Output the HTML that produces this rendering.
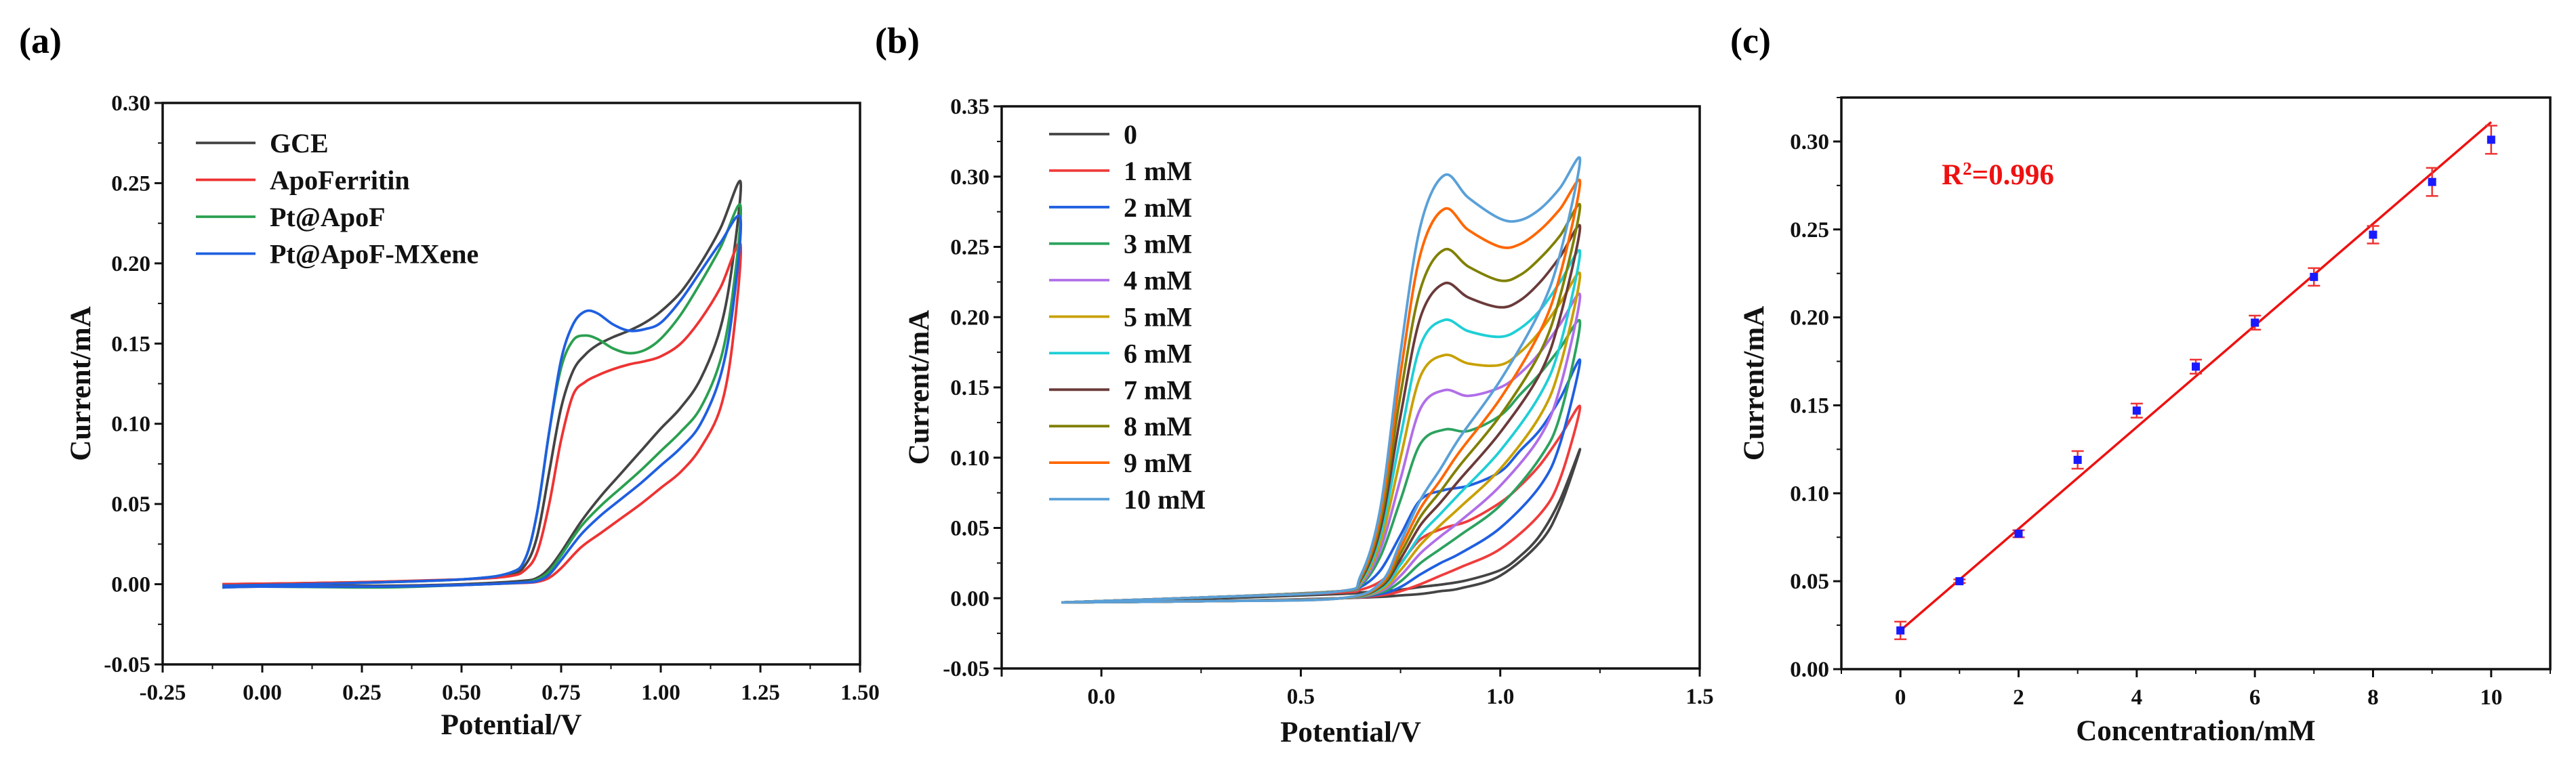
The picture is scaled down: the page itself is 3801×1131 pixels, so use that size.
<!DOCTYPE html>
<html><head><meta charset="utf-8">
<style>
html,body{margin:0;padding:0;background:#fff;}
svg{display:block;font-family:"Liberation Serif",serif;font-weight:bold;}
</style></head>
<body>
<svg id="fig" width="3801" height="1131" viewBox="0 0 3801 1131" xmlns="http://www.w3.org/2000/svg">
<rect width="3801" height="1131" fill="#fff"/>
</svg>
<script>
// ---------- Panel (a) data ----------
const aFwdV = [-0.1,0.2,0.5,0.62,0.66,0.69,0.72,0.75,0.78,0.81,0.84,0.88,0.92,0.96,1.0,1.05,1.1,1.15,1.2];
const aRevV = [1.2,1.18,1.15,1.1,1.05,1.0,0.95,0.9,0.85,0.8,0.75,0.72,0.69,0.65,0.5,0.3,0.0,-0.1];
const aNames = ["GCE","ApoFerritin","Pt@ApoF","Pt@ApoF-MXene"];
const aGCEf = [0,0.001,0.003,0.006,0.012,0.03,0.07,0.11,0.133,0.143,0.149,0.154,0.158,0.163,0.170,0.182,0.200,0.222,0.251];
const aGCEr = [0.251,0.2,0.16,0.128,0.11,0.097,0.083,0.069,0.055,0.039,0.02,0.01,0.004,0.002,0.0,-0.001,-0.001,-0.001];
const aApoF = [0,0.001,0.003,0.005,0.009,0.02,0.05,0.09,0.118,0.126,0.130,0.134,0.137,0.139,0.142,0.150,0.165,0.185,0.212];
const aApoR = [0.212,0.15,0.11,0.085,0.07,0.06,0.05,0.041,0.032,0.023,0.01,0.004,0.0015,0.0008,-0.0005,-0.0015,-0.0015,-0.002];
const aPtF = [-0.001,0.0005,0.003,0.007,0.016,0.045,0.095,0.135,0.152,0.155,0.153,0.147,0.144,0.146,0.153,0.168,0.188,0.210,0.236];
const aPtR = [0.236,0.18,0.14,0.11,0.095,0.083,0.071,0.06,0.049,0.036,0.018,0.008,0.003,0.001,-0.0005,-0.002,-0.0015,-0.002];
const aMxF = [-0.001,0.0005,0.003,0.007,0.016,0.045,0.095,0.14,0.162,0.170,0.169,0.162,0.158,0.159,0.163,0.177,0.195,0.213,0.228];
const aMxR = [0.228,0.17,0.13,0.1,0.085,0.074,0.063,0.053,0.043,0.031,0.015,0.006,0.002,0.001,-0.0005,-0.0015,-0.0015,-0.002];
const aXTicks = ["-0.25","0.00","0.25","0.50","0.75","1.00","1.25","1.50"];
const aYTicks = ["-0.05","0.00","0.05","0.10","0.15","0.20","0.25","0.30"];

// ---------- Panel (b) data ----------
const bFwdV = [-0.1,0.3,0.6,0.65,0.7,0.75,0.8,0.86,0.92,1.0,1.05,1.1,1.15,1.2];
const bRevV = [1.2,1.15,1.1,1.0,0.9,0.85,0.8,0.75,0.7,0.6,0.3,-0.1];
const bNames = ["0","1 mM","2 mM","3 mM","4 mM","5 mM","6 mM","7 mM","8 mM","9 mM","10 mM"];
const bF0 = [-0.003,0.0,0.003,0.004,0.005,0.006,0.008,0.01,0.013,0.02,0.03,0.045,0.07,0.106];
const bR0 = [0.106,0.065,0.04,0.016,0.007,0.005,0.003,0.002,0.001,0,-0.002,-0.003];
const bF1 = [-0.003,0.001,0.004,0.006,0.012,0.025,0.042,0.05,0.055,0.068,0.08,0.095,0.115,0.136];
const bR1 = [0.136,0.085,0.06,0.035,0.022,0.016,0.01,0.005,0.002,0,-0.002,-0.003];
const bF2 = [-0.003,0.001,0.005,0.008,0.02,0.045,0.07,0.077,0.08,0.09,0.105,0.12,0.142,0.169];
const bR2 = [0.169,0.11,0.08,0.05,0.032,0.025,0.017,0.008,0.003,0,-0.002,-0.003];
const bF3 = [-0.003,0.001,0.005,0.009,0.03,0.07,0.11,0.12,0.119,0.13,0.145,0.16,0.178,0.196];
const bR3 = [0.196,0.13,0.1,0.066,0.045,0.035,0.025,0.012,0.004,0,-0.002,-0.003];
const bF4 = [-0.003,0.001,0.005,0.01,0.035,0.085,0.135,0.148,0.144,0.15,0.16,0.175,0.195,0.215];
const bR4 = [0.215,0.15,0.115,0.08,0.055,0.044,0.032,0.016,0.005,0,-0.002,-0.003];
const bF5 = [-0.003,0.001,0.005,0.011,0.04,0.1,0.158,0.173,0.167,0.166,0.175,0.19,0.21,0.23];
const bR5 = [0.23,0.165,0.13,0.092,0.065,0.052,0.038,0.02,0.006,0,-0.002,-0.003];
const bF6 = [-0.003,0.001,0.005,0.012,0.045,0.115,0.18,0.198,0.19,0.186,0.192,0.205,0.225,0.246];
const bR6 = [0.246,0.18,0.145,0.105,0.075,0.06,0.045,0.024,0.007,0,-0.002,-0.003];
const bF7 = [-0.003,0.001,0.005,0.013,0.05,0.13,0.2,0.224,0.214,0.207,0.212,0.225,0.243,0.264];
const bR7 = [0.264,0.2,0.16,0.118,0.085,0.068,0.052,0.028,0.008,0,-0.002,-0.003];
const bF8 = [-0.003,0.001,0.005,0.014,0.055,0.145,0.22,0.248,0.236,0.226,0.23,0.242,0.258,0.279];
const bR8 = [0.279,0.215,0.175,0.13,0.095,0.076,0.058,0.032,0.009,0,-0.002,-0.003];
const bF9 = [-0.003,0.001,0.005,0.015,0.06,0.16,0.245,0.277,0.262,0.25,0.252,0.262,0.277,0.296];
const bR9 = [0.296,0.23,0.19,0.142,0.105,0.084,0.064,0.036,0.01,0,-0.002,-0.003];
const bF10 = [-0.003,0.001,0.005,0.016,0.065,0.175,0.265,0.301,0.285,0.27,0.269,0.277,0.292,0.312];
const bR10 = [0.312,0.245,0.205,0.155,0.115,0.092,0.07,0.04,0.011,0,-0.002,-0.003];
const bXTicks = ["","0.0","0.5","1.0","1.5"];
const bYTicks = ["-0.05","0.00","0.05","0.10","0.15","0.20","0.25","0.30","0.35"];

// ---------- Panel (c) data ----------
const cConc = [0,1,2,3,4,5,6,7,8,9,10];
const cCurrent = [0.022,0.050,0.077,0.119,0.147,0.172,0.197,0.223,0.247,0.277,0.301];
const cError = [0.005,0.001,0.002,0.005,0.004,0.004,0.004,0.005,0.005,0.008,0.008];
const cFitIntercept = 0.022;
const cFitSlope = 0.0289;
const cXTicks = ["0","2","4","6","8","10"];
const cYTicks = ["0.00","0.05","0.10","0.15","0.20","0.25","0.30"];

const NS = "http://www.w3.org/2000/svg";
const svg = document.getElementById("fig");
const LW = 3.8;
function mk(tag, attrs, parent){
  const e = document.createElementNS(NS, tag);
  for (const k in attrs) e.setAttribute(k, attrs[k]);
  (parent||svg).appendChild(e);
  return e;
}
function txt(str, attrs, parent){ const t = mk("text", attrs, parent); t.textContent = str; return t; }

function smoothPath(pts){
  let d = "M"+pts[0][0].toFixed(1)+","+pts[0][1].toFixed(1);
  for (let i=0;i<pts.length-1;i++){
    const p0 = pts[Math.max(0,i-1)], p1 = pts[i], p2 = pts[i+1], p3 = pts[Math.min(pts.length-1,i+2)];
    const c1x = p1[0]+(p2[0]-p0[0])/6, c1y = p1[1]+(p2[1]-p0[1])/6;
    const c2x = p2[0]-(p3[0]-p1[0])/6, c2y = p2[1]-(p3[1]-p1[1])/6;
    d += " C"+c1x.toFixed(1)+","+c1y.toFixed(1)+" "+c2x.toFixed(1)+","+c2y.toFixed(1)+" "+p2[0].toFixed(1)+","+p2[1].toFixed(1);
  }
  return d;
}

function axesBox(g, L, R, T, B){
  const r = mk("rect", {x:L, y:T, width:R-L, height:B-T, fill:"none", stroke:"#111", "stroke-width":3.5}, g);
  
  
}

// ===== Panel (a) =====
(function(){
  const L=240,R=1269,T=152,B=981, x0=-0.25,x1=1.5,y0=-0.05,y1=0.30;
  const X=v=>L+(v-x0)/(x1-x0)*(R-L), Y=v=>B-(v-y0)/(y1-y0)*(B-T);
  const g = mk("g", {});
  
  
  const lab = txt("(a)", {x:28, y:78, "font-size":54}, g);
  
  
  const series = [[aGCEf,aGCEr,"#444444"],[aApoF,aApoR,"#ee3333"],[aPtF,aPtR,"#2aa050"],[aMxF,aMxR,"#1f5fe0"]];
  series.forEach((s,i)=>{
    const pts = aFwdV.map((v,k)=>[X(v),Y(s[0][k])]).concat(aRevV.slice(1).map((v,k)=>[X(v),Y(s[1][k+1])]));
    const p = mk("path", {d:smoothPath(pts), fill:"none", stroke:s[2], "stroke-width":LW}, g);
    
    
    const ly = 211 + i*54.5;
    const ll = mk("line", {x1:289, x2:377, y1:ly, y2:ly, stroke:s[2], "stroke-width":LW}, g);
    
    
    const lt = txt(aNames[i], {x:398, y:ly+14, "font-size":40, fill:"#111"}, g);
    
    
  });
  axesBox(g,L,R,T,B);
  aXTicks.forEach((t,i)=>{
    const v = x0 + i*0.25, x = X(v);
    mk("line",{x1:x,x2:x,y1:B,y2:B+12,stroke:"#111","stroke-width":3},g);
    if (i<aXTicks.length-1){ const xm = X(v+0.125); mk("line",{x1:xm,x2:xm,y1:B,y2:B+7,stroke:"#111","stroke-width":2},g); }
    const tl = txt(t,{x:x,y:B+52,"font-size":33,"text-anchor":"middle",fill:"#111"},g);
    
    
  });
  aYTicks.forEach((t,i)=>{
    const v = y0 + i*0.05, y = Y(v);
    mk("line",{x1:L,x2:L-12,y1:y,y2:y,stroke:"#111","stroke-width":3},g);
    if (i<aYTicks.length-1){ const ym = Y(v+0.025); mk("line",{x1:L,x2:L-7,y1:ym,y2:ym,stroke:"#111","stroke-width":2},g); }
    const tl = txt(t,{x:L-18,y:y+11,"font-size":33,"text-anchor":"end",fill:"#111"},g);
    
    
  });
  const xt = txt("Potential/V",{x:(L+R)/2,y:1084,"font-size":43,"text-anchor":"middle",fill:"#111"},g);
  
  
  const yt = txt("Current/mA",{x:0,y:0,"font-size":43,"text-anchor":"middle",fill:"#111",transform:"translate(133,"+((T+B)/2)+") rotate(-90)"},g);
  
  
})();

// ===== Panel (b) =====
(function(){
  const L=1478,R=2508,T=157,B=987, x0=-0.25,x1=1.5,y0=-0.05,y1=0.35;
  const X=v=>L+(v-x0)/(x1-x0)*(R-L), Y=v=>B-(v-y0)/(y1-y0)*(B-T);
  const g = mk("g", {});
  
  
  const lab = txt("(b)", {x:1291, y:78, "font-size":54}, g);
  
  
  const fw = [bF0,bF1,bF2,bF3,bF4,bF5,bF6,bF7,bF8,bF9,bF10];
  const rv = [bR0,bR1,bR2,bR3,bR4,bR5,bR6,bR7,bR8,bR9,bR10];
  const cols = ["#444444","#f03c3c","#1f5fe0","#2ca25f","#b06ee8","#c8a000","#1ecfd6","#6b3a3a","#808000","#ff6600","#5aa0d8"];
  fw.forEach((f,i)=>{
    const pts = bFwdV.map((v,k)=>[X(v),Y(f[k])]).concat(bRevV.slice(1).map((v,k)=>[X(v),Y(rv[i][k+1])]));
    const p = mk("path", {d:smoothPath(pts), fill:"none", stroke:cols[i], "stroke-width":LW}, g);
    
    
    const ly = 198 + i*53.9;
    const ll = mk("line", {x1:1548, x2:1637, y1:ly, y2:ly, stroke:cols[i], "stroke-width":LW}, g);
    
    
    const lt = txt(bNames[i], {x:1658, y:ly+14, "font-size":40, fill:"#111"}, g);
    
    
  });
  axesBox(g,L,R,T,B);
  bXTicks.forEach((t,i)=>{
    const v = i===0 ? -0.25 : (i-1)*0.5, x = X(v);
    mk("line",{x1:x,x2:x,y1:B,y2:B+12,stroke:"#111","stroke-width":3},g);
    if (i>0 && i<bXTicks.length-1){ const xm = X(v+0.25); mk("line",{x1:xm,x2:xm,y1:B,y2:B+7,stroke:"#111","stroke-width":2},g); }
    if (t){
      const tl = txt(t,{x:x,y:B+52,"font-size":33,"text-anchor":"middle",fill:"#111"},g);
      
      
    }
  });
  bYTicks.forEach((t,i)=>{
    const v = y0 + i*0.05, y = Y(v);
    mk("line",{x1:L,x2:L-12,y1:y,y2:y,stroke:"#111","stroke-width":3},g);
    if (i<bYTicks.length-1){ const ym = Y(v+0.025); mk("line",{x1:L,x2:L-7,y1:ym,y2:ym,stroke:"#111","stroke-width":2},g); }
    const tl = txt(t,{x:L-18,y:y+11,"font-size":33,"text-anchor":"end",fill:"#111"},g);
    
    
  });
  const xt = txt("Potential/V",{x:(L+R)/2,y:1095,"font-size":43,"text-anchor":"middle",fill:"#111"},g);
  
  
  const yt = txt("Current/mA",{x:0,y:0,"font-size":43,"text-anchor":"middle",fill:"#111",transform:"translate(1370,"+((T+B)/2)+") rotate(-90)"},g);
  
  
})();

// ===== Panel (c) =====
(function(){
  const L=2717,R=3763,T=144,B=988, x0=-1,x1=11,y0=0,y1=0.325;
  const X=v=>L+(v-x0)/(x1-x0)*(R-L), Y=v=>B-(v-y0)/(y1-y0)*(B-T);
  const g = mk("g", {});
  
  
  const lab = txt("(c)", {x:2553, y:78, "font-size":54}, g);
  
  
  const fit = mk("line",{x1:X(0),y1:Y(cFitIntercept),x2:X(10),y2:Y(cFitIntercept+cFitSlope*10),stroke:"#ee1111","stroke-width":3.5},g);
  
  
  cConc.forEach((c,i)=>{
    const x = X(c), yt = Y(cCurrent[i]+cError[i]), yb = Y(cCurrent[i]-cError[i]);
    const eb = mk("path",{d:`M${x},${yt} V${yb} M${x-9},${yt} H${x+9} M${x-9},${yb} H${x+9}`,stroke:"#ee3333","stroke-width":2.5,fill:"none"},g);
    
    
    const pt = mk("rect",{x:x-6,y:Y(cCurrent[i])-6,width:12,height:12,fill:"#1a1aff"},g);
    
    
  });
  axesBox(g,L,R,T,B);
  for (let v=-1; v<=11; v++){
    const x = X(v), major = (v%2===0);
    mk("line",{x1:x,x2:x,y1:B,y2:B+(major?12:7),stroke:"#111","stroke-width":major?3:2},g);
  }
  cXTicks.forEach((t,i)=>{
    const tl = txt(t,{x:X(i*2),y:B+52,"font-size":33,"text-anchor":"middle",fill:"#111"},g);
    
    
  });
  cYTicks.forEach((t,i)=>{
    const v = i*0.05, y = Y(v);
    mk("line",{x1:L,x2:L-12,y1:y,y2:y,stroke:"#111","stroke-width":3},g);
    const ym = Y(v+0.025); mk("line",{x1:L,x2:L-7,y1:ym,y2:ym,stroke:"#111","stroke-width":2},g);
    const tl = txt(t,{x:L-18,y:y+11,"font-size":33,"text-anchor":"end",fill:"#111"},g);
    
    
  });
  const r2 = mk("text",{x:2865,y:272,"font-size":43,fill:"#ee1111"},g);
  
  
  r2.innerHTML = 'R<tspan font-size="27" dy="-14">2</tspan><tspan dy="14">=0.996</tspan>';
  const xt = txt("Concentration/mM",{x:(L+R)/2,y:1093,"font-size":43,"text-anchor":"middle",fill:"#111"},g);
  
  
  const yt = txt("Current/mA",{x:0,y:0,"font-size":43,"text-anchor":"middle",fill:"#111",transform:"translate(2602,"+((T+B)/2)+") rotate(-90)"},g);
  
  
})();
</script>
</body></html>
